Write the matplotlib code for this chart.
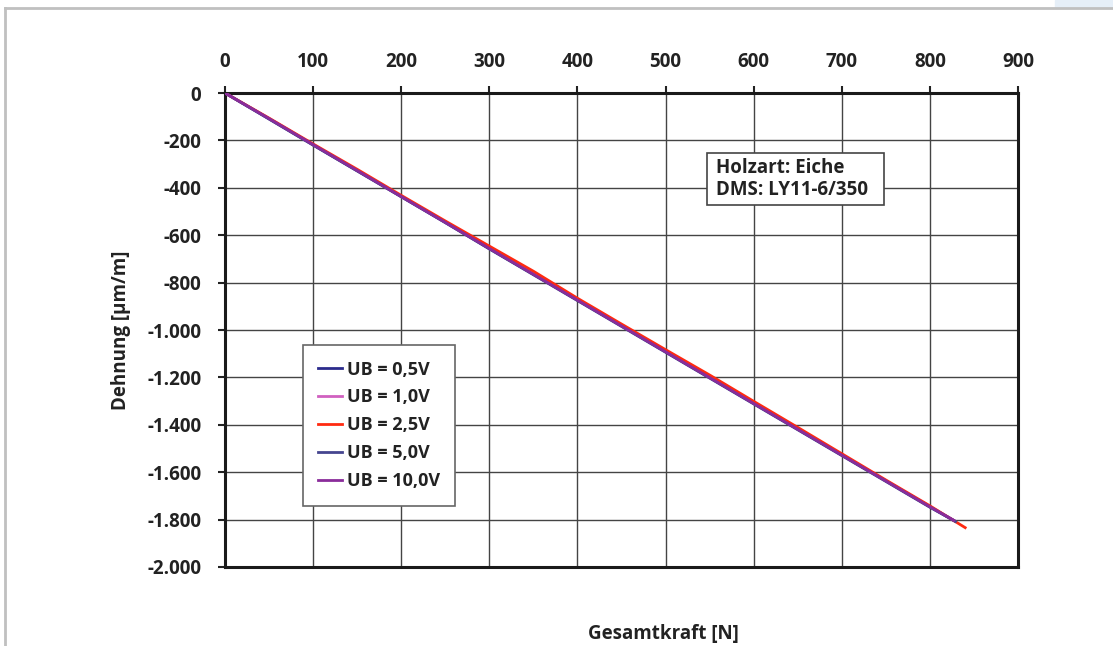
import matplotlib
matplotlib.use("Agg")
import matplotlib.pyplot as plt
from matplotlib.ticker import FuncFormatter, MultipleLocator
from matplotlib.patches import Rectangle
from matplotlib.lines import Line2D

plt.rcParams['font.family'] = ['Open Sans', 'DejaVu Sans']
plt.rcParams['font.weight'] = 'bold'
plt.rcParams['axes.labelweight'] = 'bold'
FS = 13.5

# Gesamtkraft [N] / Dehnung [µm/m]
kraft = [0, 50, 100, 150, 200, 250, 300, 350, 400, 450, 500, 550, 600, 650, 700, 750, 800]

dehnung_05 = [0, -109, -219, -328, -437, -546, -657, -765, -874, -983, -1092, -1201, -1310, -1419, -1528, -1637, -1746]
dehnung_10 = [0, -108, -218, -327, -436, -545, -655, -764, -873, -982, -1091, -1200, -1309, -1418, -1527, -1636, -1745]
dehnung_25 = [0, -106, -215, -322, -432, -540, -646, -752, -866, -975, -1083, -1190, -1301, -1411, -1522, -1633, -1742]
dehnung_50 = [0, -110, -220, -329, -438, -547, -658, -767, -876, -985, -1094, -1203, -1312, -1421, -1530, -1639, -1748]
dehnung_100 = [0, -108, -218, -327, -437, -546, -656, -765, -874, -983, -1092, -1201, -1310, -1419, -1528, -1637, -1746]

# end points of each run
end_kraft = [828, 826, 840, 829, 827]
end_dehnung = [-1806, -1801, -1834, -1808, -1803]

labels = ['UB = 0,5V', 'UB = 1,0V', 'UB = 2,5V', 'UB = 5,0V', 'UB = 10,0V']
colors = ['#2b2b8c', '#d060c0', '#ff2a10', '#45458f', '#8a2c9a']
series = [dehnung_05, dehnung_10, dehnung_25, dehnung_50, dehnung_100]


def fmt_de(v, pos):
    s = f"{abs(int(round(v))):,}".replace(",", ".")
    return ("-" + s) if v < 0 else s


fig = plt.figure(figsize=(11.13, 6.46), dpi=100)
ax = fig.add_axes([0.2022, 0.1223, 0.7125, 0.7337])

for i, ys in enumerate(series):
    xs = kraft + [end_kraft[i]]
    yy = ys + [end_dehnung[i]]
    ax.plot(xs, yy, color=colors[i], lw=2.0, label=labels[i], zorder=3)

ax.set_xlim(0, 900)
ax.set_ylim(-2000, 0)
ax.xaxis.set_major_locator(MultipleLocator(100))
ax.yaxis.set_major_locator(MultipleLocator(200))
ax.yaxis.set_major_formatter(FuncFormatter(fmt_de))
ax.xaxis.tick_top()
ax.tick_params(axis='x', which='both', direction='out', length=5, width=1.5, pad=10,
               labelsize=FS, colors='#222222')
ax.tick_params(axis='y', direction='out', length=5, width=1.5, pad=12,
               labelsize=FS, colors='#222222')
ax.grid(True, color='#444444', lw=1.0, zorder=1)
for sp in ax.spines.values():
    sp.set_linewidth(2.2)
    sp.set_color('#1a1a1a')

ax.set_ylabel('Dehnung [µm/m]', fontsize=FS, color='#222222', labelpad=12)
fig.text(0.5956, 1 - 634 / 646, 'Gesamtkraft [N]', ha='center', va='center',
         fontsize=FS, color='#222222', fontweight='bold')

leg = ax.legend(loc='upper left', bbox_to_anchor=(0.098, 0.468), borderaxespad=0,
                fontsize=13, frameon=True, fancybox=False, edgecolor='#666666',
                framealpha=1, handlelength=1.3, handletextpad=0.3,
                borderpad=0.85, labelspacing=0.55)
leg.get_frame().set_linewidth(1.2)
for t in leg.get_texts():
    t.set_color('#222222')

# info box
ax.add_patch(Rectangle((547, -473), 201, 220, fc='white', ec='#444444', lw=1.2, zorder=5))
ax.text(557, -363, 'Holzart: Eiche\nDMS: LY11-6/350', fontsize=FS, color='#222222',
        ha='left', va='center', linespacing=1.15, zorder=6)

# page frame around the figure
fig.add_artist(Line2D([0.0045, 0.0045], [0.0, 0.988], color='#c0c0c0', lw=2,
                      transform=fig.transFigure))
fig.add_artist(Line2D([0.0045, 1.0], [0.988, 0.988], color='#c0c0c0', lw=2,
                      transform=fig.transFigure))
fig.add_artist(Rectangle((0.948, 0.989), 0.052, 0.011, color='#e6eff8',
                         transform=fig.transFigure))

fig.savefig('out.png', dpi=100)
